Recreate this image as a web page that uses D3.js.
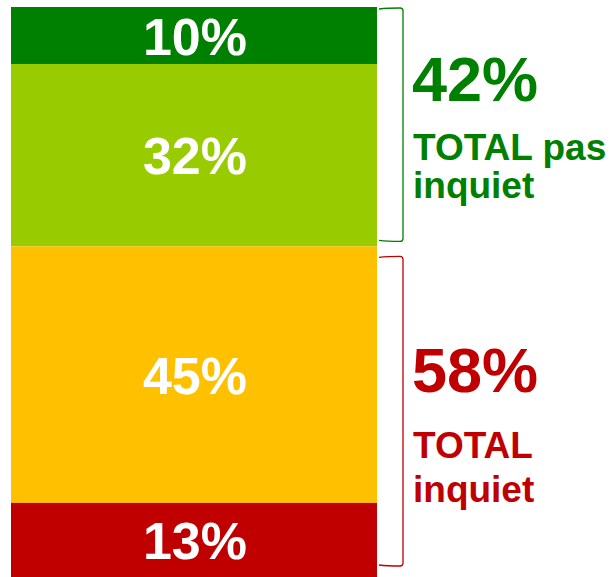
<!DOCTYPE html>
<html>
<head>
<meta charset="utf-8">
<script src="https://cdn.jsdelivr.net/npm/d3@7"></script>
<style>
  body { margin: 0; background: #fff; }
  svg text { font-family: "Liberation Sans", Arial, sans-serif; font-weight: bold; }
</style>
</head>
<body>
<div id="chart"></div>
<script>
var width = 610, height = 577;

// segments, top to bottom
var segments = ["tres_peu", "peu", "assez", "tres"];
var values = [10, 32, 45, 13];
var segColors = ["#008000", "#99CC00", "#FFC000", "#C00000"];

// groups (brace + totals)
var groupNames = ["pas inquiet", "inquiet"];
var groupTotals = [42, 58];
var groupLines = [["TOTAL pas", "inquiet"], ["TOTAL", "inquiet"]];
var groupColors = ["#008000", "#C00000"];

var svg = d3.select("#chart").append("svg")
    .attr("width", width)
    .attr("height", height);

var x = d3.scaleBand().domain(["all"]).range([11, 377]).padding(0);
var y = d3.scaleLinear().domain([0, 100]).range([7, 577]);

var stacked = [];
var acc = 0;
values.forEach(function(v, i) {
    stacked.push({ key: segments[i], value: v, y0: acc, y1: acc + v, color: segColors[i] });
    acc += v;
});

svg.selectAll("rect.seg")
    .data(stacked)
    .enter()
    .append("rect")
    .attr("class", "seg")
    .attr("x", x("all"))
    .attr("width", x.bandwidth())
    .attr("y", d => y(d.y0))
    .attr("height", d => y(d.y1) - y(d.y0))
    .style("fill", d => d.color);

svg.selectAll("text.segLabel")
    .data(stacked)
    .enter()
    .append("text")
    .attr("class", "segLabel")
    .attr("x", x("all") + x.bandwidth() / 2 + 1)
    .attr("y", d => (y(d.y0) + y(d.y1)) / 2 + 19)
    .attr("text-anchor", "middle")
    .style("font-size", "52px")
    .style("fill", "#fff")
    .text(d => d.value + "%");

// braces
var groups = [];
var g0 = 0;
groupTotals.forEach(function(t, i) {
    groups.push({ name: groupNames[i], total: t, y0: g0, y1: g0 + t, color: groupColors[i], lines: groupLines[i] });
    g0 += t;
});
var braceInset = [[1, 5], [10, 11]];
var bx0 = 379, bx1 = 403, r = 3;

svg.selectAll("path.brace")
    .data(groups)
    .enter()
    .append("path")
    .attr("class", "brace")
    .attr("d", function(d, i) {
        var t = y(d.y0) + braceInset[i][0], b = y(d.y1) - braceInset[i][1];
        return "M" + bx0 + "," + (t + 1) + " Q" + (bx0 + 8) + "," + t + " " + (bx1 - r) + "," + t +
            " Q" + bx1 + "," + t + " " + bx1 + "," + (t + r) +
            " L" + bx1 + "," + (b - r) +
            " Q" + bx1 + "," + b + " " + (bx1 - r) + "," + b +
            " Q" + (bx0 + 8) + "," + b + " " + bx0 + "," + (b - 1);
    })
    .style("fill", "none")
    .style("stroke", d => d.color)
    .style("stroke-width", 1.3);

// totals text
var titleDy = [-26, -20];
var lineDy = [[33, 71], [46, 90]];

var tg = svg.selectAll("g.total")
    .data(groups)
    .enter()
    .append("g")
    .attr("class", "total");

tg.append("text")
    .attr("x", 412)
    .attr("y", (d, i) => (y(d.y0) + y(d.y1)) / 2 + titleDy[i])
    .style("font-size", "63px")
    .style("fill", d => d.color)
    .text(d => d.total + "%");

tg.each(function(d, i) {
    d3.select(this).selectAll("text.line")
        .data(d.lines)
        .enter()
        .append("text")
        .attr("class", "line")
        .attr("x", 413)
        .attr("y", (s, j) => (y(d.y0) + y(d.y1)) / 2 + lineDy[i][j])
        .style("font-size", "37px")
        .style("fill", d.color)
        .text(s => s);
});
</script>
</body>
</html>
